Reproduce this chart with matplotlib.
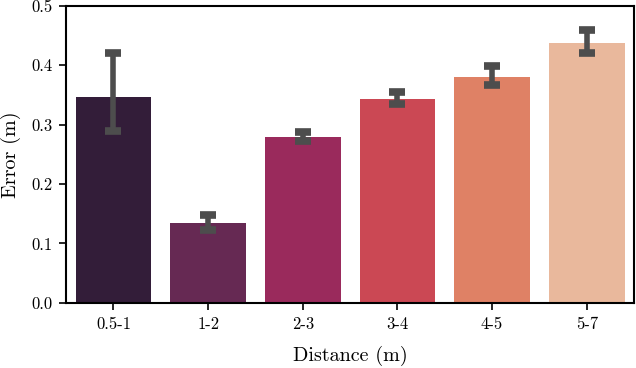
import numpy as np
import matplotlib
matplotlib.use("Agg")
import matplotlib.pyplot as plt
import seaborn as sns

# distance bins and mean error with bootstrap CI bounds
distances = ["0.5-1", "1-2", "2-3", "3-4", "4-5", "5-7"]
error_mean = [0.347, 0.135, 0.280, 0.343, 0.381, 0.438]
ci_low = [0.289, 0.123, 0.272, 0.334, 0.366, 0.421]
ci_high = [0.421, 0.148, 0.287, 0.355, 0.398, 0.459]

plt.rcParams["font.family"] = ["cmr10", "DejaVu Serif"]
plt.rcParams["mathtext.fontset"] = "cm"
plt.rcParams["axes.formatter.use_mathtext"] = True

colors = [sns.desaturate(c, 0.75) for c in sns.color_palette("rocket", len(distances))]

fig, ax = plt.subplots(figsize=(6.36, 3.68), dpi=100)
x = np.arange(len(distances))
ax.bar(x, error_mean, width=0.8, color=colors, linewidth=0)

mean = np.array(error_mean)
yerr = [mean - np.array(ci_low), np.array(ci_high) - mean]
ax.errorbar(x, mean, yerr=yerr, fmt="none", ecolor="#4d4d4d",
            elinewidth=4.0, capsize=5.7, capthick=5.5)

ax.set_xlim(-0.5, len(distances) - 0.5)
ax.set_ylim(0, 0.5)
ax.set_xticks(x)
ax.set_xticklabels(distances)
ax.set_yticks([0.0, 0.1, 0.2, 0.3, 0.4, 0.5])
ax.set_yticklabels(["0.0", "0.1", "0.2", "0.3", "0.4", "0.5"])
ax.tick_params(labelsize=12, length=5, width=1.2, pad=5)
for s in ax.spines.values():
    s.set_linewidth(1.5)

ax.set_xlabel("Distance (m)", fontsize=14.5, labelpad=10)
ax.set_ylabel("Error (m)", fontsize=14.5, labelpad=7)

fig.subplots_adjust(left=0.104, right=0.997, top=0.984, bottom=0.177)
fig.savefig("out.png", dpi=100)
